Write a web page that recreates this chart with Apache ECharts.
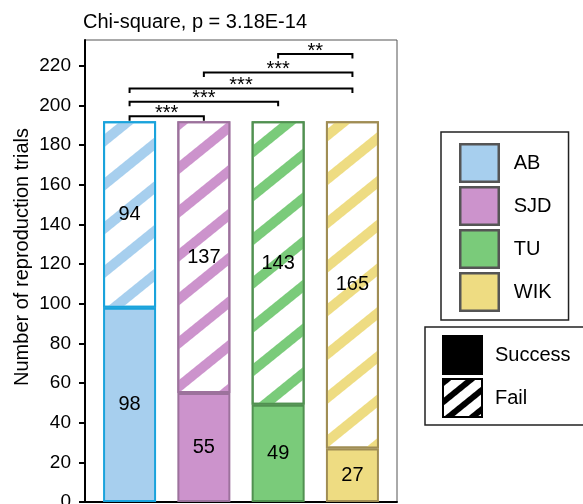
<!DOCTYPE html>
<html>
<head>
<meta charset="utf-8">
<script src="https://cdn.jsdelivr.net/npm/echarts@6/dist/echarts.min.js"></script>
<style>
  html, body { margin: 0; padding: 0; background: #fff; }
  #chart { width: 583px; height: 504px; }
</style>
</head>
<body>
<div id="chart"></div>
<script>
const sites = ['AB', 'SJD', 'TU', 'WIK'];
const success = [98, 55, 49, 27];
const fail = [94, 137, 143, 165];
const fillColors = ['#a7cfee', '#cc93cc', '#7acb7a', '#eedc82'];
const edgeColors = ['#1aa3dc', '#9c729c', '#519151', '#a08d54'];
const yTicks = [0, 20, 40, 60, 80, 100, 120, 140, 160, 180, 200, 220];
// pairwise tests: [from site, to site, bracket height, stars]
const brackets = [
  [0, 1, 194.5, '***'],
  [0, 2, 201.8, '***'],
  [0, 3, 208.5, '***'],
  [1, 3, 216.6, '***'],
  [2, 3, 225.9, '**']
];

const FONT = 'Liberation Sans, Arial, sans-serif';
const STRIPE_ROT = -0.68;

const stripes = (color, dash) => ({
  symbol: 'rect',
  symbolSize: 1,
  dashArrayX: [1, 0],
  dashArrayY: dash,
  rotation: STRIPE_ROT,
  color: color
});

const chart = echarts.init(document.getElementById('chart'));

// value first so the stack runs on the y dimension; x holds the site index
const barLabel = {
  show: true,
  position: 'inside',
  fontSize: 20,
  fontFamily: FONT,
  color: '#000',
  textBorderWidth: 0,
  formatter: p => p.value[0]
};

const option = {
  animation: false,
  title: {
    text: 'Chi-square, p = 3.18E-14',
    left: 83,
    top: 12,
    padding: 0,
    textStyle: { fontSize: 20, fontWeight: 'normal', fontFamily: FONT, color: '#000' }
  },
  grid: {
    left: 85, right: 186, top: 40, bottom: 2,
    outerBoundsMode: 'none',
    show: true, borderColor: '#555', borderWidth: 1
  },
  xAxis: {
    type: 'value',
    min: -0.6,
    max: 3.6,
    axisLine: { show: true, onZero: false, lineStyle: { color: '#000', width: 2 } },
    axisTick: { show: false },
    axisLabel: { show: false },
    splitLine: { show: false }
  },
  yAxis: {
    type: 'value',
    min: 0,
    max: 233,
    name: 'Number of reproduction trials',
    nameLocation: 'middle',
    nameGap: 53,
    nameMoveOverlap: false,
    nameTextStyle: { fontSize: 20, fontFamily: FONT, color: '#000', padding: [0, 0, 0, 28] },
    axisLine: { show: true, onZero: false, lineStyle: { color: '#000', width: 2 } },
    axisTick: { show: true, length: 6, lineStyle: { color: '#000', width: 2 }, customValues: yTicks },
    axisLabel: { fontSize: 19, fontFamily: FONT, color: '#000', margin: 14, customValues: yTicks },
    splitLine: { show: false }
  },
  legend: [
    {
      orient: 'vertical',
      left: 441,
      top: 132,
      padding: [11, 17, 8, 18],
      itemWidth: 38.5,
      itemHeight: 37.5,
      itemGap: 3,
      icon: 'rect',
      selectedMode: false,
      borderColor: '#222',
      borderWidth: 1.5,
      textStyle: { fontSize: 20, fontFamily: FONT, color: '#000', padding: [0, 0, 0, 10] },
      data: sites.map((s, i) => ({
        name: s,
        itemStyle: { color: fillColors[i], opacity: 1, borderColor: '#555', borderWidth: 2.5 }
      }))
    },
    {
      orient: 'vertical',
      left: 425,
      top: 327,
      padding: [8, 30, 7, 17],
      itemWidth: 39,
      itemHeight: 38,
      itemGap: 3,
      icon: 'rect',
      selectedMode: false,
      borderColor: '#222',
      borderWidth: 1.5,
      textStyle: { fontSize: 20, fontFamily: FONT, color: '#000', padding: [0, 0, 0, 8] },
      data: [
        { name: 'Success', itemStyle: { color: '#000', opacity: 1, borderColor: '#000', borderWidth: 2 } },
        { name: 'Fail', itemStyle: { color: '#fff', opacity: 1, borderColor: '#000', borderWidth: 2, decal: stripes('#000', [6, 9]) } }
      ]
    }
  ],
  series: [
    {
      name: 'Success',
      type: 'bar',
      stack: 'trials',
      barWidth: 53,
      encode: { x: 1, y: 0 },
      label: barLabel,
      data: success.map((v, i) => ({
        value: [v, i],
        itemStyle: { color: fillColors[i], borderColor: edgeColors[i], borderWidth: 2 }
      }))
    },
    {
      name: 'Fail',
      type: 'bar',
      stack: 'trials',
      barWidth: 53,
      encode: { x: 1, y: 0 },
      label: barLabel,
      data: fail.map((v, i) => ({
        value: [v, i],
        itemStyle: {
          color: '#fff',
          borderColor: edgeColors[i],
          borderWidth: 2,
          decal: stripes(fillColors[i], [10, 24])
        }
      }))
    },
    {
      type: 'custom',
      name: 'brackets',
      silent: true,
      encode: { x: [0, 1], y: 2 },
      data: brackets.map(b => [b[0], b[1], b[2]]),
      renderItem: function (params, api) {
        const a = api.coord([api.value(0), api.value(2)]);
        const b = api.coord([api.value(1), api.value(2)]);
        const drop = 4.5;
        return {
          type: 'group',
          children: [
            {
              type: 'polyline',
              shape: { points: [[a[0], a[1] + drop], a, b, [b[0], b[1] + drop]] },
              style: { stroke: '#000', lineWidth: 2, fill: null }
            },
            {
              type: 'text',
              style: {
                x: (a[0] + b[0]) / 2,
                y: a[1] - 3,
                text: brackets[params.dataIndex][3],
                font: '20px ' + FONT,
                align: 'center',
                verticalAlign: 'middle',
                fill: '#000'
              }
            }
          ]
        };
      }
    }
  ].concat(sites.map(s => ({ name: s, type: 'scatter', data: [] })))
};

chart.setOption(option);
</script>
</body>
</html>
